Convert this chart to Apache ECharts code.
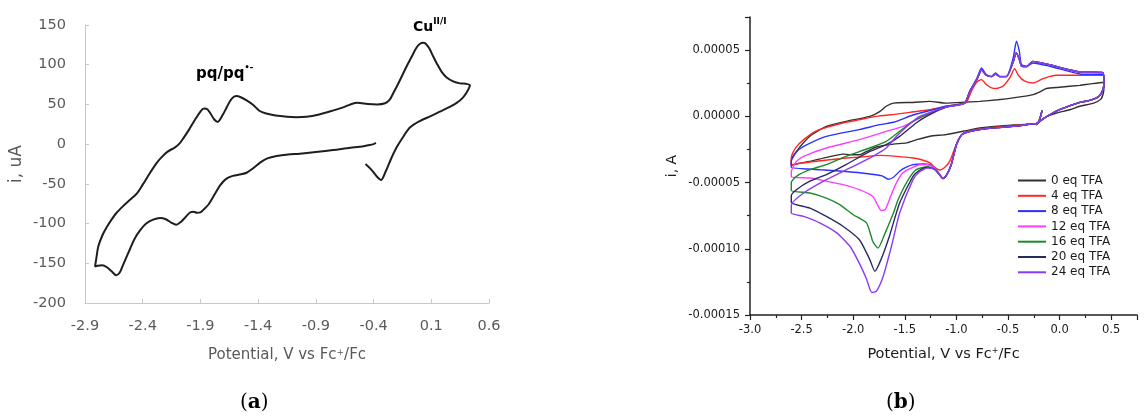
<!DOCTYPE html>
<html>
<head>
<meta charset="utf-8">
<script src="https://cdn.jsdelivr.net/npm/echarts@6/dist/echarts.min.js"></script>
<style>
  html, body { margin: 0; padding: 0; background: #fff; }
  #main { width: 1145px; height: 416px; }
</style>
</head>
<body>
<div id="main"></div>
<script>
// (a) CV of the Cu complex, potential (V vs Fc+/Fc) and current (uA), in scan order
var scanA = [
  [-0.47, -25], [-0.42, -32], [-0.37, -41], [-0.335, -45], [-0.30, -36], [-0.25, -19], [-0.20, -4], [-0.14, 10],
  [-0.085, 21], [0.0, 29], [0.09, 35], [0.175, 41], [0.26, 47], [0.32, 52], [0.37, 58], [0.41, 66], [0.435, 74],
  [0.40, 76], [0.35, 76.5], [0.29, 79], [0.233, 84], [0.19, 91], [0.15, 101], [0.118, 110], [0.085, 120],
  [0.054, 126], [0.03, 127.5], [0.0, 126], [-0.03, 121], [-0.07, 110], [-0.11, 99], [-0.15, 87], [-0.19, 75],
  [-0.23, 64], [-0.26, 56], [-0.30, 51.5], [-0.37, 50], [-0.45, 50.5], [-0.54, 52], [-0.60, 50], [-0.67, 46],
  [-0.78, 41], [-0.88, 37], [-0.98, 34.5], [-1.07, 34], [-1.15, 34.5], [-1.25, 36], [-1.33, 38.5], [-1.39, 42],
  [-1.44, 49], [-1.50, 55], [-1.55, 59], [-1.59, 60.5], [-1.63, 57], [-1.67, 47], [-1.71, 36], [-1.75, 28],
  [-1.78, 31], [-1.81, 38], [-1.84, 44], [-1.87, 45], [-1.90, 41], [-1.95, 30], [-2.0, 18], [-2.05, 7],
  [-2.08, 1], [-2.12, -4], [-2.19, -10], [-2.24, -17], [-2.28, -24], [-2.34, -37], [-2.40, -51], [-2.45, -62],
  [-2.51, -70], [-2.57, -78], [-2.63, -87], [-2.67, -95], [-2.71, -104], [-2.75, -115], [-2.785, -129],
  [-2.80, -142], [-2.813, -154],
  [-2.79, -153], [-2.75, -152.5], [-2.71, -155], [-2.67, -160], [-2.63, -165], [-2.60, -162], [-2.57, -152],
  [-2.54, -142], [-2.51, -132], [-2.47, -119], [-2.42, -108], [-2.37, -100], [-2.31, -95], [-2.25, -93],
  [-2.20, -94.5], [-2.15, -99], [-2.11, -101.5], [-2.07, -98], [-2.03, -92], [-1.99, -86], [-1.96, -85],
  [-1.93, -86.5], [-1.90, -86], [-1.87, -82], [-1.83, -76], [-1.78, -64], [-1.73, -52], [-1.68, -44],
  [-1.62, -40], [-1.55, -38], [-1.50, -36], [-1.44, -30], [-1.38, -23], [-1.32, -18], [-1.24, -15],
  [-1.14, -13], [-1.04, -12], [-0.90, -10], [-0.75, -7.5], [-0.60, -4.5], [-0.52, -3.4], [-0.45, -1.5],
  [-0.40, 0], [-0.38, 1.7]
];

// (b) CVs with TFA, current in units of 1e-5 A
var tfaLabels = ['0 eq TFA', '4 eq TFA', '8 eq TFA', '12 eq TFA', '16 eq TFA', '20 eq TFA', '24 eq TFA'];
var tfaColors = ['#303030', '#ff2626', '#2f2fff', '#ff3cff', '#1f8a2a', '#2a2a62', '#8a3cf5'];

// shared start of the cathodic sweep (TFA > 0)
var startLeg = [[-0.17, 0.43], [-0.21, -0.5], [-0.3, -0.6], [-0.45, -0.76], [-0.6, -0.85], [-0.774, -1.0],
  [-0.9, -1.2], [-0.95, -1.4], [-1.0, -2.14], [-1.05, -3.65], [-1.1, -4.5], [-1.13, -4.7]];
// shared anodic wave for 12-24 eq
var anodicRight = [[-0.92, 1.0], [-0.87, 1.89], [-0.8, 2.8], [-0.757, 3.5], [-0.71, 3.1], [-0.66, 3.0],
  [-0.62, 3.2], [-0.58, 3.0], [-0.515, 3.0], [-0.45, 4.1], [-0.42, 4.8], [-0.39, 4.3], [-0.37, 3.8],
  [-0.32, 3.75], [-0.26, 4.15], [-0.1, 3.9], [0.196, 3.35], [0.42, 3.3]];
// shared return sweep from +0.43 V (TFA > 0)
var returnLeg = [[0.43, 2.6], [0.42, 2.0], [0.38, 1.5], [0.29, 1.2], [0.196, 1.05], [0.0, 0.5], [-0.1, 0.1],
  [-0.19, -0.35], [-0.225, -0.63]];

var tfa0 = [[-0.17, 0.43], [-0.21, -0.5], [-0.3, -0.6], [-0.45, -0.65], [-0.6, -0.75], [-0.774, -0.88],
  [-0.935, -1.13], [-1.1, -1.38], [-1.256, -1.5], [-1.385, -1.76], [-1.48, -2.0], [-1.61, -2.1], [-1.77, -2.3],
  [-1.87, -2.65], [-1.94, -2.9], [-2.03, -2.9], [-2.1, -2.85], [-2.257, -3.1], [-2.42, -3.4], [-2.53, -3.55],
  [-2.6, -3.7],
  [-2.6, -3.3], [-2.55, -2.65], [-2.42, -1.51], [-2.26, -0.76], [-2.07, -0.38], [-1.84, 0.0], [-1.74, 0.38],
  [-1.68, 0.76], [-1.61, 1.0], [-1.42, 1.05], [-1.26, 1.13], [-1.1, 1.0], [-0.9, 1.08], [-0.774, 1.13],
  [-0.6, 1.25], [-0.45, 1.39], [-0.258, 1.64], [-0.19, 1.85], [-0.128, 2.1], [0.0, 2.2], [0.196, 2.34],
  [0.3, 2.45], [0.42, 2.55],
  [0.43, 2.3], [0.425, 1.8], [0.40, 1.3], [0.33, 1.0], [0.196, 0.76], [0.1, 0.5], [-0.03, 0.25], [-0.12, 0.0],
  [-0.19, -0.38], [-0.225, -0.63]];

var tfa4 = [[-0.17, 0.43], [-0.21, -0.5], [-0.3, -0.6], [-0.45, -0.7], [-0.6, -0.8], [-0.774, -0.95],
  [-0.9, -1.15], [-0.95, -1.4], [-1.0, -2.1], [-1.065, -3.4], [-1.12, -3.9], [-1.16, -4.05], [-1.21, -3.85],
  [-1.256, -3.52], [-1.33, -3.3], [-1.42, -3.15], [-1.58, -3.02], [-1.74, -2.95], [-1.9, -3.05],
  [-2.063, -3.15], [-2.25, -3.3], [-2.42, -3.45], [-2.6, -3.65],
  [-2.6, -3.1], [-2.56, -2.4], [-2.48, -1.76], [-2.357, -1.1], [-2.22, -0.75], [-2.1, -0.5], [-1.94, -0.25],
  [-1.775, 0.0], [-1.6, 0.15], [-1.45, 0.3], [-1.256, 0.5], [-1.097, 0.76], [-0.95, 0.95], [-0.903, 1.05],
  [-0.855, 1.89], [-0.8, 2.6], [-0.757, 2.77], [-0.71, 2.4], [-0.66, 2.15], [-0.613, 2.1], [-0.55, 2.27],
  [-0.483, 2.9], [-0.435, 3.6], [-0.40, 3.1], [-0.338, 2.65], [-0.258, 2.52], [-0.16, 2.85], [-0.03, 3.1],
  [0.196, 3.1], [0.42, 3.1]].concat(returnLeg);

var tfa8 = startLeg.concat([[-1.16, -4.4], [-1.21, -3.9], [-1.26, -3.65], [-1.32, -3.6], [-1.42, -3.65],
  [-1.5, -3.9], [-1.55, -4.15], [-1.61, -4.6], [-1.66, -4.75], [-1.72, -4.5], [-1.84, -4.35], [-2.1, -4.15],
  [-2.32, -4.03], [-2.6, -3.85],
  [-2.6, -3.4], [-2.55, -2.7], [-2.48, -2.27], [-2.26, -1.51], [-1.94, -1.0], [-1.74, -0.63], [-1.61, -0.45],
  [-1.42, 0.1], [-1.25, 0.45], [-1.1, 0.76], [-0.92, 1.0], [-0.87, 1.89], [-0.8, 2.9], [-0.757, 3.65],
  [-0.71, 3.15], [-0.66, 3.02], [-0.62, 3.28], [-0.58, 3.02], [-0.515, 3.02], [-0.45, 4.4], [-0.418, 5.67],
  [-0.39, 4.9], [-0.37, 3.9], [-0.32, 3.78], [-0.258, 4.03], [-0.096, 3.78], [0.196, 3.2], [0.42, 3.15]],
  returnLeg);

var tfa12 = startLeg.concat([[-1.16, -4.4], [-1.21, -3.9], [-1.28, -3.65], [-1.356, -3.65], [-1.45, -3.95],
  [-1.52, -4.28], [-1.58, -5.0], [-1.63, -5.9], [-1.69, -7.05], [-1.73, -7.1], [-1.77, -6.6], [-1.81, -6.05],
  [-1.94, -5.54], [-2.1, -5.16], [-2.26, -4.9], [-2.42, -4.66], [-2.6, -4.58],
  [-2.6, -4.2], [-2.55, -3.4], [-2.48, -3.02], [-2.26, -2.39], [-1.94, -1.76], [-1.68, -1.13],
  [-1.515, -0.76], [-1.356, -0.13], [-1.2, 0.4], [-1.1, 0.7]], anodicRight, returnLeg);

var tfa16 = startLeg.concat([[-1.16, -4.45], [-1.21, -4.0], [-1.28, -3.8], [-1.39, -4.03], [-1.46, -4.7],
  [-1.52, -5.54], [-1.57, -6.4], [-1.61, -7.3], [-1.69, -8.8], [-1.76, -9.95], [-1.81, -9.45], [-1.87, -8.06],
  [-2.0, -7.43], [-2.13, -6.67], [-2.26, -6.17], [-2.42, -5.79], [-2.6, -5.6],
  [-2.6, -5.0], [-2.55, -4.53], [-2.42, -4.03], [-2.26, -3.65], [-2.07, -3.02], [-1.84, -2.39], [-1.68, -1.89],
  [-1.55, -1.13], [-1.42, -0.38], [-1.29, 0.13], [-1.1, 0.7]], anodicRight, returnLeg);

var tfa20 = startLeg.concat([[-1.16, -4.45], [-1.21, -4.0], [-1.28, -3.85], [-1.36, -4.1], [-1.42, -4.53],
  [-1.55, -6.55], [-1.65, -9.07], [-1.73, -10.8], [-1.79, -11.7], [-1.84, -10.8], [-1.94, -9.32], [-2.1, -8.3],
  [-2.26, -7.56], [-2.42, -6.93], [-2.6, -6.5],
  [-2.6, -6.0], [-2.55, -5.54], [-2.42, -4.9], [-2.26, -4.4], [-2.07, -3.65], [-1.87, -2.77], [-1.68, -2.14],
  [-1.55, -1.51], [-1.39, -0.5], [-1.29, 0.0], [-1.1, 0.7]], anodicRight, returnLeg);

var tfa24 = startLeg.concat([[-1.16, -4.45], [-1.21, -4.0], [-1.28, -3.9], [-1.36, -4.2], [-1.42, -4.78],
  [-1.55, -7.3], [-1.63, -9.83], [-1.71, -12.1], [-1.775, -13.2], [-1.82, -13.3], [-1.87, -12.3],
  [-1.94, -11.1], [-2.03, -9.83], [-2.16, -8.8], [-2.32, -8.06], [-2.48, -7.56], [-2.6, -7.3],
  [-2.6, -6.7], [-2.48, -5.79], [-2.26, -4.78], [-2.0, -3.78], [-1.81, -3.02], [-1.68, -2.39], [-1.58, -1.51],
  [-1.48, -0.76], [-1.356, 0.0], [-1.2, 0.45], [-1.1, 0.7]], anodicRight, returnLeg);

var tfaCurves = [tfa0, tfa4, tfa8, tfa12, tfa16, tfa20, tfa24];
var currentUnit = 1e-5; // panel b values above are in 1e-5 A

var myChart = echarts.init(document.getElementById('main'), null, { renderer: 'canvas' });

var fontA = '"DejaVu Sans", sans-serif';
var fontB = '"DejaVu Sans", sans-serif';
var serif = '"DejaVu Serif", "Liberation Serif", serif';

var seriesB = tfaCurves.map(function (curve, k) {
  return {
    name: tfaLabels[k],
    type: 'line',
    xAxisIndex: 1,
    yAxisIndex: 1,
    data: curve.map(function (p) { return [p[0], p[1] * currentUnit]; }),
    symbol: 'none',
    smooth: 0.2,
    lineStyle: { color: tfaColors[k], width: 1.4 },
    itemStyle: { color: tfaColors[k] },
    z: 2 + k
  };
});

var option = {
  animation: false,
  backgroundColor: '#fff',
  grid: [
    { left: 85, top: 25, width: 404, height: 278 },
    { left: 750, top: 17, width: 387, height: 298 }
  ],
  legend: {
    data: tfaLabels,
    orient: 'vertical',
    left: 1017,
    top: 174.5,
    padding: 0,
    itemWidth: 28,
    itemHeight: 12,
    itemGap: 3.3,
    itemStyle: { opacity: 0 },
    textStyle: { fontFamily: fontB, fontSize: 12, color: '#1a1a1a' }
  },
  xAxis: [{
    gridIndex: 0,
    type: 'value',
    min: -2.9,
    max: 0.6,
    interval: 0.5,
    name: 'Potential, V vs Fc{sup|+}/Fc',
    nameLocation: 'middle',
    nameGap: 45,
    nameTextStyle: {
      fontFamily: fontA, fontSize: 15, color: '#595959',
      rich: { sup: { fontFamily: fontA, fontSize: 9, color: '#595959', verticalAlign: 'top', padding: [0, 0, 6, 0] } }
    },
    axisLine: { onZero: false, lineStyle: { color: '#c8c8c8', width: 1 } },
    axisTick: { inside: true, length: 4, lineStyle: { color: '#c8c8c8' } },
    axisLabel: {
      margin: 16, fontFamily: fontA, fontSize: 14.5, color: '#595959',
      formatter: function (v) { return v.toFixed(1); }
    },
    splitLine: { show: false }
  }, {
    gridIndex: 1,
    type: 'value',
    min: -3.0,
    max: 0.75,
    interval: 0.5,
    name: 'Potential, V vs Fc{sup|+}/Fc',
    nameLocation: 'middle',
    nameGap: 32,
    nameTextStyle: {
      fontFamily: fontB, fontSize: 14.5, color: '#1a1a1a',
      rich: { sup: { fontFamily: fontB, fontSize: 8, color: '#1a1a1a', verticalAlign: 'top', padding: [0, 0, 6, 0] } }
    },
    axisLine: { onZero: false, lineStyle: { color: '#222', width: 1.5 } },
    axisTick: { length: 5, lineStyle: { color: '#222', width: 1.2 } },
    minorTick: { show: true, splitNumber: 2, length: 3, lineStyle: { color: '#222', width: 1.2 } },
    axisLabel: {
      margin: 9, fontFamily: fontB, fontSize: 11.5, color: '#1a1a1a', showMaxLabel: false,
      formatter: function (v) { return v > 0.6 ? '' : v.toFixed(1); }
    },
    splitLine: { show: false }
  }],
  yAxis: [{
    gridIndex: 0,
    type: 'value',
    min: -200,
    max: 150,
    interval: 50,
    name: 'i, uA',
    nameLocation: 'middle',
    nameGap: 60,
    nameTextStyle: { fontFamily: fontA, fontSize: 17, color: '#595959' },
    axisLine: { show: true, onZero: false, lineStyle: { color: '#c8c8c8', width: 1 } },
    axisTick: { show: true, inside: true, length: 4, lineStyle: { color: '#c8c8c8' } },
    axisLabel: { margin: 19, fontFamily: fontA, fontSize: 14.5, color: '#595959' },
    splitLine: { show: false }
  }, {
    gridIndex: 1,
    type: 'value',
    min: -0.00015,
    max: 0.000075,
    interval: 0.00005,
    name: 'i, A',
    nameLocation: 'middle',
    nameGap: 71,
    nameTextStyle: { fontFamily: fontB, fontSize: 14, color: '#1a1a1a' },
    axisLine: { show: true, onZero: false, lineStyle: { color: '#222', width: 1.5 } },
    axisTick: { show: true, length: 5, lineStyle: { color: '#222', width: 1.2 } },
    minorTick: { show: true, splitNumber: 2, length: 3, lineStyle: { color: '#222', width: 1.2 } },
    axisLabel: {
      margin: 10, fontFamily: fontB, fontSize: 11.5, color: '#1a1a1a', showMaxLabel: false,
      formatter: function (v) {
        if (Math.abs(v) < 1e-12) return '0.00000';
        if (v > 0.00006) return '';
        return v.toFixed(5);
      }
    },
    splitLine: { show: false }
  }],
  series: [{
    name: 'Cu complex',
    type: 'line',
    xAxisIndex: 0,
    yAxisIndex: 0,
    data: scanA,
    symbol: 'none',
    smooth: 0.3,
    lineStyle: { color: '#1e1e1e', width: 2 }
  }].concat(seriesB),
  graphic: [{
    type: 'text',
    left: 196,
    top: 64,
    style: {
      text: '{b|pq/pq}{s|\u2022\u2013}',
      rich: {
        b: { fontFamily: fontA, fontWeight: 'bold', fontSize: 15, color: '#262626', lineHeight: 20 },
        s: { fontFamily: fontA, fontWeight: 'bold', fontSize: 8, color: '#262626', verticalAlign: 'top', lineHeight: 20, padding: [0, 0, 8, 0] }
      }
    }
  }, {
    type: 'text',
    left: 413,
    top: 17,
    style: {
      text: '{b|Cu}{s|II/I}',
      rich: {
        b: { fontFamily: fontA, fontWeight: 'bold', fontSize: 14, color: '#262626', lineHeight: 20 },
        s: { fontFamily: fontA, fontWeight: 'bold', fontSize: 9, color: '#262626', verticalAlign: 'top', lineHeight: 20, padding: [0, 0, 8, 0] }
      }
    }
  }, {
    type: 'text',
    left: 240,
    top: 393,
    style: {
      text: '{n|(}{b|a}{n|)}',
      rich: {
        n: { fontFamily: serif, fontSize: 20, color: '#000' },
        b: { fontFamily: serif, fontSize: 20, fontWeight: 'bold', color: '#000' }
      }
    }
  }, {
    type: 'text',
    left: 886,
    top: 393,
    style: {
      text: '{n|(}{b|b}{n|)}',
      rich: {
        n: { fontFamily: serif, fontSize: 20, color: '#000' },
        b: { fontFamily: serif, fontSize: 20, fontWeight: 'bold', color: '#000' }
      }
    }
  }]
};

myChart.setOption(option);
</script>
</body>
</html>
